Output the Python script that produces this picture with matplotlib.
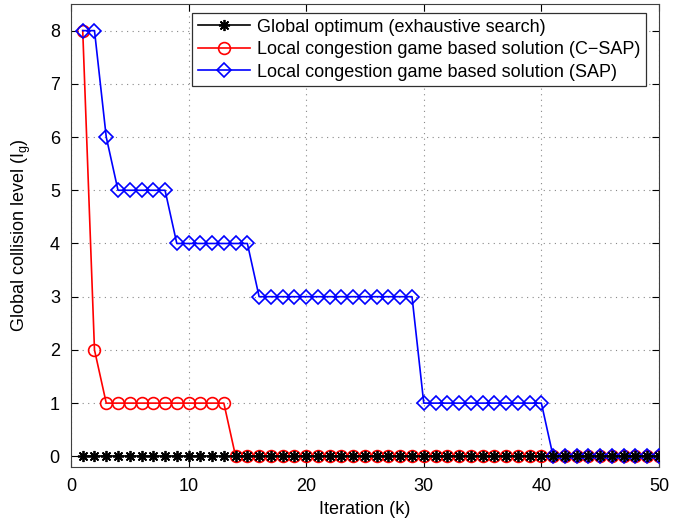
import matplotlib
matplotlib.use('Agg')
import matplotlib.pyplot as plt
import numpy as np

plt.rcParams['font.family'] = ['Liberation Sans', 'DejaVu Sans']
plt.rcParams['mathtext.fontset'] = 'custom'
plt.rcParams['mathtext.rm'] = 'Liberation Sans'

# iteration index
k = np.arange(1, 51)

# global optimum (exhaustive search)
opt = [0] * 50
# C-SAP
csap = [8, 2] + [1] * 11 + [0] * 37
# SAP
sap = [8, 8, 6] + [5] * 5 + [4] * 7 + [3] * 14 + [1] * 11 + [0] * 10

fig = plt.figure(figsize=(6.85, 5.22), dpi=100)
ax = fig.add_axes([0.1036, 0.1054, 0.8584, 0.8869])

ax.plot(k, csap, color='#ff0000', lw=1.2, marker='o', ms=8.5, mfc='none', mew=1.2,
        label='Local congestion game based solution (C\u2212SAP)', zorder=3)
ax.plot(k, sap, color='#0000ff', lw=1.2, marker='D', ms=7.5, mfc='none', mew=1.2,
        label='Local congestion game based solution (SAP)', zorder=4)
ax.plot(k, opt, color='k', lw=1.2, marker=(8, 2, 0), ms=8, mew=1.3,
        label='Global optimum (exhaustive search)', zorder=5)

ax.set_xlim(0, 50)
ax.set_ylim(-0.2, 8.5)
ax.set_xticks(np.arange(0, 51, 10))
ax.set_yticks(np.arange(0, 9, 1))
ax.grid(True, ls=(0, (1, 4)), color='#888888', lw=0.8)
ax.tick_params(direction='in', top=True, right=True, labelsize=13, length=5, pad=8)
for s in ax.spines.values():
    s.set_color('#404040')

ax.set_xlabel('Iteration (k)', fontsize=13, labelpad=4)
ax.set_ylabel('Global collision level (I$_\\mathregular{g}$)', fontsize=13, labelpad=12)

h, l = ax.get_legend_handles_labels()
order = [2, 0, 1]
leg = ax.legend([h[i] for i in order], [l[i] for i in order], loc='upper right',
                fontsize=13, fancybox=False, framealpha=1, edgecolor='#303030',
                bbox_to_anchor=(0.978, 0.98), borderaxespad=0, handlelength=2.9,
                labelspacing=0.3, borderpad=0.3, handletextpad=0.4)
leg.get_frame().set_linewidth(0.9)

fig.savefig('out.png', dpi=100)
